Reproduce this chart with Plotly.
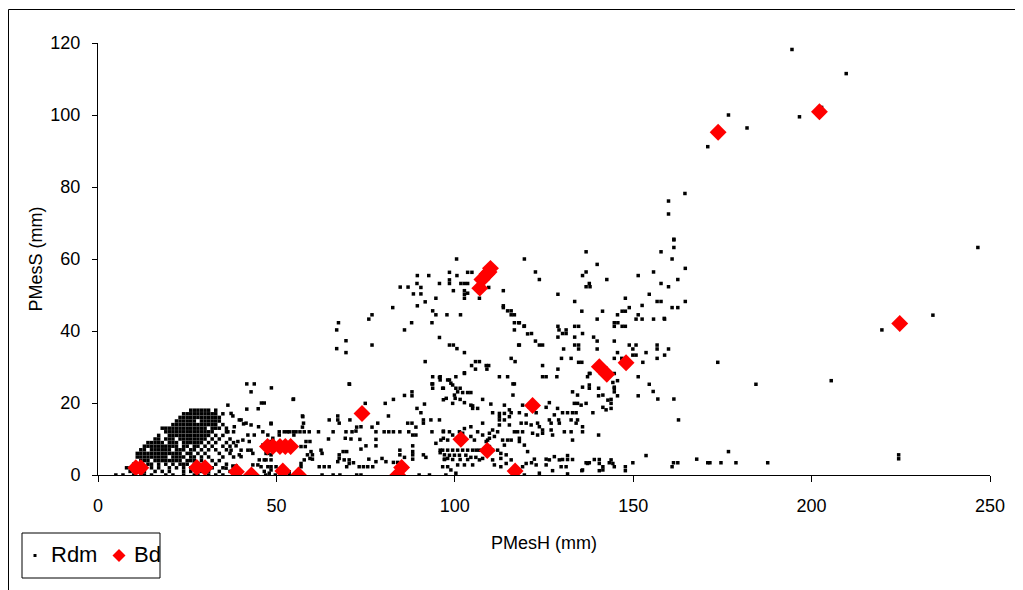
import plotly.graph_objects as go

# ---------------- data ----------------
x_ticks = [0, 50, 100, 150, 200, 250]
y_ticks = [0, 20, 40, 60, 80, 100, 120]
series_names = ["Rdm", "Bd"]

# dense cloud of Rdm points, one entry per integer PMesS row: (PMesS, [PMesH values])
rdm_cloud_rows = [
    (0, [5, 7, 10, 12, 13, 15, 19, 21, 24, 27, 28, 31, 33, 35, 38]),
    (1, [9, 13, 16, 18, 20, 24, 26, 29, 31, 34, 37]),
    (2, [8, 9, 13, 15, 17, 20, 22, 24, 26, 32, 35, 38]),
    (3, [10, 11, 14, 15, 17, 19, 21, 23, 24, 25, 27, 28, 30, 33, 36]),
    (4, [12, 13, 14, 16, 17, 18, 19, 20, 21, 22, 23, 25, 26, 27, 29, 32, 34]),
    (5, [11, 12, 13, 14, 15, 16, 17, 18, 19, 21, 22, 23, 24, 26, 27, 29, 31, 35, 38]),
    (6, [11, 12, 13, 14, 15, 16, 17, 18, 19, 20, 21, 22, 23, 25, 26, 28, 30, 34, 37]),
    (7, [12, 13, 15, 16, 17, 18, 19, 20, 22, 23, 24, 26, 27, 29, 31, 33, 36]),
    (8, [13, 14, 15, 16, 17, 18, 19, 20, 21, 22, 24, 25, 27, 28, 30, 32, 35, 37]),
    (9, [14, 15, 16, 17, 18, 20, 21, 22, 24, 25, 26, 27, 28, 29, 31, 33, 36, 38]),
    (10, [16, 17, 19, 20, 21, 23, 24, 25, 26, 27, 28, 29, 30, 32, 34, 37]),
    (11, [17, 20, 21, 22, 23, 24, 25, 26, 27, 28, 29, 30, 31, 33, 35]),
    (12, [19, 20, 21, 22, 23, 24, 25, 26, 27, 28, 29, 30, 31, 32, 36, 38]),
    (13, [18, 19, 20, 21, 22, 23, 24, 25, 26, 27, 28, 29, 30, 32, 33, 34, 36]),
    (14, [21, 22, 23, 24, 25, 26, 27, 28, 29, 30, 31, 32, 33, 35]),
    (15, [22, 23, 24, 25, 26, 27, 29, 30, 31, 32, 33, 34]),
    (16, [23, 24, 25, 26, 27, 28, 29, 30, 31, 32, 33, 34]),
    (17, [24, 25, 26, 27, 28, 29, 30, 31, 32, 33, 35]),
    (18, [26, 27, 28, 29, 30, 31, 33]),
]

# scattered Rdm points (PMesH, PMesS)
rdm_low_left = [
    (36.4, 19.4), (37.8, 16.4), (38.2, 13.4), (39.6, 15.3), (40.8, 14.2), (42.9, 13.9), (45.0, 13.4),
    (42.0, 11.1), (43.8, 11.1), (46.2, 12.0), (40.6, 9.7), (38.7, 8.1), (42.0, 6.9), (43.4, 6.0),
    (39.6, 5.6), (46.2, 8.3), (47.1, 6.0), (45.2, 4.2), (47.1, 4.2), (48.5, 4.2), (43.4, 2.8),
    (44.8, 2.8), (37.8, 2.5), (38.7, 2.5), (35.9, 1.9), (49.9, 2.3), (46.6, 1.0), (48.0, 0.5),
    (51.8, 0.9), (53.6, 0.9), (41.7, 25.3), (43.8, 25.3), (42.9, 23.1), (48.6, 24.2), (54.8, 21.1),
    (45.8, 20.0), (46.6, 20.0), (41.7, 18.3), (44.9, 18.4), (57.4, 16.2), (57.6, 14.4), (48.5, 14.2),
    (50.8, 12.0), (52.2, 12.0), (53.6, 12.0), (50.8, 11.1), (49.0, 10.2), (54.9, 11.1), (42.0, 0),
    (44.0, 0), (47.0, 0), (49.7, 0), (53.6, 0), (37.3, 17.1), (40.1, 15.3), (41.5, 14.4),
    (47.6, 11.1), (42.4, 9.3), (39.2, 9.3), (36.4, 12.0), (37.3, 6.9), (40.1, 6.9), (42.9, 6.9),
    (47.6, 6.0), (46.6, 4.2), (40.1, 5.1), (45.7, 2.3), (47.6, 2.3),
]

rdm_low_mid = [
    (70.4, 25.3), (54.7, 21.0), (74.9, 19.9), (80.5, 19.9), (82.8, 21.0), (85.9, 22.1), (88.0, 23.1),
    (88.0, 22.0), (93.6, 25.3), (93.8, 24.1), (95.9, 27.3), (95.9, 26.4), (96.8, 24.1), (96.8, 20.9),
    (98.5, 26.4), (91.5, 19.7), (89.4, 18.5), (90.5, 17.3), (91.2, 15.3), (91.2, 14.4), (93.3, 15.3),
    (95.7, 15.3), (86.8, 14.4), (88.0, 14.4), (81.4, 16.4), (78.4, 14.4), (76.8, 13.3), (77.9, 12.0),
    (80.2, 12.0), (81.5, 12.0), (82.8, 12.0), (84.6, 12.0), (87.1, 12.0), (89.1, 13.3), (88.2, 11.1),
    (89.1, 11.1), (93.6, 12.0), (96.8, 12.0), (96.8, 10.2), (98.5, 12.0), (57.3, 16.4), (57.3, 13.3),
    (64.8, 15.3), (67.2, 16.4), (67.2, 15.3), (67.6, 14.4), (70.6, 15.3), (72.5, 13.3), (73.7, 13.4),
    (65.9, 12.0), (69.5, 12.0), (71.2, 12.0), (72.3, 12.2), (69.3, 10.2), (70.9, 10.0), (73.4, 9.9),
    (73.7, 7.2), (75.1, 8.1), (77.9, 9.9), (77.9, 8.1), (61.8, 12.0), (64.6, 10.0), (59.2, 12.0),
    (57.8, 12.0), (56.6, 12.0), (55.5, 12.0), (54.7, 12.0), (53.1, 12.0), (48.5, 14.4), (58.3, 9.3),
    (59.4, 9.3), (56.9, 7.9), (58.1, 7.9), (60.1, 5.6), (59.4, 4.6), (57.8, 4.2), (56.9, 3.2),
    (56.9, 2.3), (62.5, 6.9), (62.8, 6.0), (62.0, 2.3), (63.4, 2.3), (64.8, 2.3), (67.6, 5.6),
    (67.6, 4.6), (67.2, 3.7), (68.7, 6.5), (69.7, 6.5), (69.0, 4.2), (70.4, 4.2), (70.4, 3.2),
    (69.7, 2.3), (71.6, 3.4), (73.2, 2.3), (74.4, 2.3), (75.6, 2.3), (77.0, 2.3), (75.9, 4.4),
    (77.9, 3.7), (79.6, 4.6), (80.7, 3.7), (82.8, 3.5), (84.0, 3.5), (84.6, 6.9), (84.6, 5.6),
    (85.9, 4.9), (88.2, 8.1), (88.2, 6.5), (88.2, 5.6), (88.2, 4.4), (91.2, 5.6), (91.9, 4.9),
    (95.9, 6.9), (95.9, 6.2), (97.1, 5.6), (97.1, 4.4), (94.7, 8.8), (98.0, 4.6), (62.8, 0),
    (65.9, 0), (67.8, 0), (72.5, 0), (73.7, 0), (90.0, 0), (92.9, 0), (97.5, 0), (48.5, 1.4),
    (48.5, 9.3), (48.5, 5.6), (48.5, 2.3), (58.7, 5.6), (59.7, 6.5), (60.1, 4.4), (70.5, 25.2),
]

rdm_low_right = [
    (102.7, 28.2), (100.3, 27.3), (98.9, 25.5), (99.4, 25.0), (100.3, 24.1), (101.5, 24.1),
    (102.2, 22.9), (103.6, 22.9), (104.5, 22.9), (100.1, 21.3), (101.5, 21.0), (102.7, 20.1),
    (99.4, 19.9), (104.5, 19.4), (105.0, 18.5), (106.4, 18.5), (107.8, 21.0), (112.5, 27.3),
    (114.8, 27.3), (116.7, 25.3), (124.6, 27.3), (125.6, 27.3), (128.6, 27.3), (137.2, 27.3),
    (137.9, 28.2), (133.0, 23.1), (134.4, 22.2), (135.8, 24.4), (137.7, 25.0), (137.7, 24.1),
    (140.3, 24.1), (140.3, 22.0), (141.5, 22.2), (144.7, 24.4), (144.7, 23.1), (144.3, 25.7),
    (142.9, 20.8), (143.8, 19.9), (141.5, 18.8), (142.4, 18.1), (133.5, 19.9), (134.4, 19.9),
    (135.4, 19.4), (136.8, 19.9), (138.7, 17.3), (126.5, 20.1), (125.6, 18.8), (128.8, 18.5),
    (130.2, 17.3), (131.6, 17.3), (133.0, 17.3), (134.0, 17.3), (127.9, 16.7), (126.5, 15.3),
    (127.0, 14.4), (129.1, 15.3), (129.3, 14.4), (132.6, 15.3), (134.0, 14.4), (135.8, 13.4),
    (135.8, 12.0), (134.4, 15.3), (140.3, 11.1), (110.1, 19.7), (110.6, 17.3), (112.5, 17.1),
    (112.5, 16.2), (113.9, 17.1), (115.3, 18.1), (115.8, 17.3), (118.1, 17.3), (112.5, 15.3),
    (112.5, 13.9), (113.9, 15.3), (115.3, 16.2), (119.0, 19.4), (120.9, 18.8), (122.1, 19.7),
    (122.8, 17.3), (120.0, 16.7), (118.6, 14.4), (120.0, 14.4), (121.4, 13.9), (123.2, 14.4),
    (123.7, 13.4), (124.6, 12.5), (124.6, 11.6), (123.2, 11.1), (121.8, 11.6), (119.0, 12.0),
    (117.6, 12.0), (115.3, 13.9), (116.7, 12.0), (115.8, 9.7), (113.4, 9.7), (114.8, 9.7),
    (113.9, 8.3), (118.1, 10.2), (118.1, 9.3), (119.5, 8.3), (120.4, 6.5), (110.6, 12.5),
    (112.0, 12.0), (111.1, 10.7), (107.8, 14.4), (109.7, 11.6), (109.7, 10.2), (108.8, 9.3),
    (106.4, 12.0), (104.5, 13.4), (102.7, 12.9), (102.2, 11.6), (101.3, 12.0), (104.5, 10.7),
    (105.5, 9.7), (107.8, 11.1), (99.4, 11.1), (98.0, 9.7), (96.8, 12.2), (96.1, 9.7),
    (96.6, 6.9), (98.0, 6.9), (99.4, 6.9), (100.8, 6.9), (102.2, 6.9), (103.6, 6.9), (105.0, 6.9),
    (106.0, 6.9), (106.9, 6.9), (98.5, 5.5), (99.9, 5.5), (101.3, 5.5), (103.1, 5.5), (104.5, 4.9),
    (105.9, 4.9), (106.9, 4.2), (107.8, 4.6), (97.1, 4.3), (99.4, 4.3), (101.5, 4.3), (103.6, 4.3),
    (109.2, 9.7), (109.7, 7.9), (110.6, 6.9), (112.0, 6.9), (112.9, 6.0), (114.4, 5.6), (112.9, 4.6),
    (110.6, 4.2), (111.1, 2.8), (112.9, 2.3), (114.4, 3.2), (115.8, 4.2), (119.0, 2.3), (120.0, 3.2),
    (122.3, 4.4), (122.8, 2.8), (123.7, 0.5), (125.6, 2.8), (126.5, 4.2), (127.9, 5.1), (129.3, 4.2),
    (129.8, 2.3), (130.2, 4.3), (131.6, 4.3), (133.0, 4.3), (131.2, 2.3), (135.8, 1.4), (137.2, 3.2),
    (139.1, 4.3), (140.5, 4.3), (140.5, 3.2), (141.5, 2.3), (141.5, 1.4), (143.8, 4.2), (144.3, 3.2),
    (144.7, 2.3), (96.6, 2.3), (98.0, 2.3), (98.9, 1.4), (100.3, 0.5), (100.8, 2.8), (102.7, 2.8),
    (105.0, 2.8), (130.7, 12.0), (132.6, 12.0), (133.0, 9.7), (127.0, 12.5), (127.4, 11.1),
    (93.8, 27.3), (95.7, 27.1), (98.0, 26.4), (93.8, 25.3), (96.6, 24.1), (100.8, 23.1),
    (97.6, 21.3), (99.9, 22.2), (105.0, 19.2), (113.9, 19.4), (116.3, 22.2), (116.3, 25.3),
    (136.8, 3.4), (137.7, 3.4), (135.6, 1.2), (131.6, 5.4), (131.6, 0.3), (127.4, 1.2),
    (125.6, 4.4), (121.5, 3.4), (119.5, 0), (140.5, 1.2), (143.3, 3.4),
]

rdm_far_low = [
    (153.6, 5.4), (176.7, 6.5), (167.8, 4.4), (170.9, 3.4), (171.5, 3.4), (174.6, 3.4), (178.8, 3.4),
    (187.7, 3.4), (161.3, 3.4), (162.5, 3.4), (160.9, 2.3), (149.9, 3.4), (147.8, 2.3), (147.8, 1.2),
    (151.4, 27.3), (154.5, 25.2), (155.6, 23.2), (156.9, 21.1), (151.4, 22.0), (161.4, 21.1),
    (162.7, 15.3), (145.6, 26.2), (144.7, 24.1), (145.6, 22.0), (143.8, 21.0), (143.8, 18.5),
    (184.4, 25.2), (205.5, 26.2), (224.4, 5.6), (224.4, 4.5),
]

rdm_mid_upper = [
    (100.5, 60.0), (119.5, 60.0), (103.6, 56.3), (104.8, 56.3), (98.5, 56.3), (100.6, 55.4),
    (89.5, 55.4), (92.7, 55.4), (89.4, 53.2), (90.5, 52.1), (84.7, 52.2), (86.9, 52.2), (95.7, 53.2),
    (98.5, 54.2), (98.5, 53.2), (101.7, 53.2), (102.7, 53.2), (103.6, 53.2), (99.6, 51.2),
    (102.7, 51.2), (103.6, 50.5), (102.7, 50.2), (102.7, 49.1), (106.9, 49.1), (109.5, 52.1),
    (113.6, 51.2), (88.4, 50.3), (90.5, 50.3), (94.7, 49.1), (91.7, 48.1), (89.5, 47.0), (82.6, 46.5),
    (93.8, 45.6), (94.7, 44.5), (97.8, 44.5), (101.6, 44.5), (113.6, 47.0), (113.6, 46.5),
    (114.8, 45.6), (115.8, 45.6), (115.8, 44.5), (116.7, 44.5), (116.7, 42.3), (117.9, 42.3),
    (119.5, 41.4), (120.4, 39.2), (116.7, 40.3), (76.8, 44.5), (75.9, 43.3), (87.9, 42.3),
    (93.6, 42.3), (85.9, 40.3), (67.4, 42.3), (66.9, 40.3), (69.5, 37.3), (66.9, 35.1), (69.5, 34.0),
    (76.8, 36.1), (95.7, 38.2), (98.5, 36.1), (99.6, 36.1), (100.6, 35.1), (102.7, 34.0),
    (117.9, 36.1), (115.8, 32.4), (116.9, 31.5), (91.7, 31.5), (105.8, 31.5), (106.9, 31.5),
    (104.7, 30.4), (105.8, 29.4), (108.8, 30.4), (109.5, 30.4), (109.0, 29.4), (102.7, 28.4),
]

rdm_upper_right = [
    (161.4, 65.3), (161.4, 63.2), (157.8, 62.0), (160.9, 60.0), (164.6, 57.4), (136.8, 62.0),
    (139.9, 58.5), (122.6, 56.4), (123.7, 54.3), (136.8, 56.4), (135.8, 55.4), (142.6, 54.3),
    (137.7, 53.2), (136.8, 52.3), (137.9, 52.3), (151.4, 55.4), (155.7, 56.4), (157.8, 53.2),
    (159.9, 52.3), (162.5, 54.3), (154.5, 50.2), (128.9, 50.2), (133.6, 48.2), (147.8, 49.1),
    (156.7, 48.2), (157.8, 48.2), (164.6, 48.2), (152.5, 47.1), (148.9, 46.5), (160.9, 46.5),
    (162.5, 46.5), (135.6, 45.5), (141.4, 45.5), (146.9, 45.5), (147.8, 45.5), (145.6, 44.5),
    (151.4, 44.5), (150.8, 43.3), (152.5, 43.3), (155.7, 43.3), (158.8, 43.3), (139.9, 43.3),
    (144.7, 42.3), (145.7, 42.3), (144.7, 41.3), (146.9, 41.3), (147.8, 41.3), (118.1, 42.3),
    (119.4, 41.3), (128.9, 41.3), (133.6, 41.3), (134.7, 41.3), (129.2, 40.3), (131.2, 40.3),
    (130.2, 39.3), (131.2, 39.3), (135.8, 39.3), (121.5, 39.3), (128.9, 38.3), (133.6, 38.3),
    (138.9, 38.3), (139.9, 37.2), (144.7, 37.2), (122.6, 37.2), (123.7, 36.1), (124.6, 36.1),
    (118.1, 36.1), (133.6, 36.1), (134.7, 36.1), (134.7, 35.0), (130.5, 35.0), (139.9, 35.0),
    (148.9, 36.1), (150.8, 36.1), (149.9, 35.0), (150.8, 33.3), (149.9, 33.3), (145.6, 34.0),
    (146.8, 32.4), (153.6, 34.0), (156.7, 36.1), (156.7, 35.0), (159.9, 35.0), (158.8, 33.3),
    (156.7, 32.4), (129.9, 32.4), (132.6, 32.4), (134.7, 31.3), (135.6, 31.3), (144.7, 32.4),
    (152.7, 31.3), (124.6, 30.4), (128.9, 29.4), (137.7, 28.2), (144.7, 28.2), (173.7, 31.3),
    (158.7, 43.5), (219.7, 40.3), (234.0, 44.4),
]

rdm_top = [
    (194.5, 118.2), (209.7, 111.5), (176.7, 100.0), (181.9, 96.4), (170.9, 91.2), (196.6, 99.5),
    (202.8, 102.1), (164.5, 78.2), (159.9, 76.1), (159.9, 72.5), (161.4, 65.5), (246.6, 63.2),
]

# Bd series (PMesH, PMesS)
bd_x = [10.6, 12.0, 27.7, 30.0, 38.8, 43.0, 47.5, 49.0, 51.0, 52.5, 54.0, 51.8, 56.2, 74.0,
        84.0, 85.1, 101.7, 109.1, 116.9, 107.0, 107.6, 109.0, 110.0, 109.6, 121.8, 140.5,
        142.6, 148.0, 173.8, 202.2, 224.7]
bd_y = [2.0, 2.0, 2.1, 2.0, 0.9, 0.0, 7.9, 7.9, 7.9, 7.9, 7.9, 1.1, 0.0, 17.1,
        0.0, 2.1, 9.9, 6.8, 1.1, 51.9, 54.3, 55.8, 57.4, 56.4, 19.3, 30.1,
        28.0, 31.2, 95.2, 100.9, 42.1]

# ---------------- assemble ----------------
rdm_x, rdm_y = [], []
for yv, xs in rdm_cloud_rows:
    for xv in xs:
        rdm_x.append(xv)
        rdm_y.append(yv)
for group in (rdm_low_left, rdm_low_mid, rdm_low_right, rdm_far_low,
              rdm_mid_upper, rdm_upper_right, rdm_top):
    for xv, yv in group:
        rdm_x.append(xv)
        rdm_y.append(yv)

FONT = "Liberation Sans, Arial, sans-serif"

fig = go.Figure()
fig.add_trace(go.Scatter(
    x=rdm_x, y=rdm_y, mode="markers", name=series_names[0], showlegend=False,
    marker=dict(symbol="square", size=3.5, color="black", line=dict(width=0)),
))
fig.add_trace(go.Scatter(
    x=bd_x, y=bd_y, mode="markers", name=series_names[1], showlegend=False,
    marker=dict(symbol="diamond", size=13, color="#FF0000", line=dict(width=0)),
))

# the page body adds an 8px margin, so the figure itself starts at screen (8, 8)
O = 8
W, H = 1023 - O, 590 - O
L, T = 98 - O, 43 - O
pw, ph = 892, 432
R, B = W - L - pw, H - T - ph


def px(xs):
    """screen x -> paper x"""
    return (xs - O - L) / pw


def py(ys):
    """screen y -> paper y"""
    return (O + T + ph - ys) / ph


# compact Excel-style legend box (drawn as shapes + text)
lg_cy = 555.5
dia = 6.5
diamond_path = "M {a},{b} L {c},{d} L {e},{f} L {g},{h} Z".format(
    a=px(119), b=py(lg_cy - dia), c=px(119 + dia), d=py(lg_cy),
    e=px(119), f=py(lg_cy + dia), g=px(119 - dia), h=py(lg_cy))

shapes = [
    dict(type="line", xref="paper", yref="paper", x0=px(8.5), x1=px(1030), y0=py(9.5), y1=py(9.5),
         line=dict(color="black", width=1)),
    dict(type="line", xref="paper", yref="paper", x0=px(8.5), x1=px(8.5), y0=py(9.5), y1=py(600),
         line=dict(color="black", width=1)),
    dict(type="rect", xref="paper", yref="paper", x0=px(22), x1=px(160), y0=py(578), y1=py(533),
         line=dict(color="black", width=1), fillcolor="white"),
    dict(type="rect", xref="paper", yref="paper", x0=px(33.5), x1=px(36.5), y0=py(lg_cy + 1.5),
         y1=py(lg_cy - 1.5), line=dict(width=0), fillcolor="black"),
    dict(type="path", xref="paper", yref="paper", path=diamond_path,
         line=dict(width=0), fillcolor="#FF0000"),
]

annotations = [
    dict(text=series_names[0], xref="paper", yref="paper", x=px(49), y=py(lg_cy - 1),
         xanchor="left", yanchor="middle", showarrow=False,
         font=dict(family=FONT, size=22, color="black")),
    dict(text=series_names[1], xref="paper", yref="paper", x=px(132), y=py(lg_cy - 1),
         xanchor="left", yanchor="middle", showarrow=False,
         font=dict(family=FONT, size=22, color="black")),
]

fig.update_layout(
    width=W, height=H,
    margin=dict(l=L, r=R, t=T, b=B, pad=0),
    paper_bgcolor="white", plot_bgcolor="white",
    font=dict(family=FONT, size=18, color="black"),
    showlegend=False,
    xaxis=dict(
        range=[0, 250], tickvals=x_ticks, ticktext=[str(v) for v in x_ticks],
        showgrid=False, zeroline=False, showline=True, linecolor="black", linewidth=1,
        ticks="outside", ticklen=6, tickcolor="black", tickwidth=1,
        tickfont=dict(family=FONT, size=18, color="black"), ticklabelstandoff=8,
        title=dict(text="PMesH (mm)", font=dict(family=FONT, size=18, color="black"), standoff=21),
    ),
    yaxis=dict(
        range=[0, 120], tickvals=y_ticks, ticktext=[str(v) for v in y_ticks],
        showgrid=False, zeroline=False, showline=True, linecolor="black", linewidth=1,
        ticks="outside", ticklen=5, tickcolor="black", tickwidth=1,
        tickfont=dict(family=FONT, size=18, color="black"), ticklabelstandoff=8,
        title=dict(text="PMesS (mm)", font=dict(family=FONT, size=18, color="black"), standoff=3),
    ),
    shapes=shapes,
    annotations=annotations,
)

fig.write_html("out.html")
